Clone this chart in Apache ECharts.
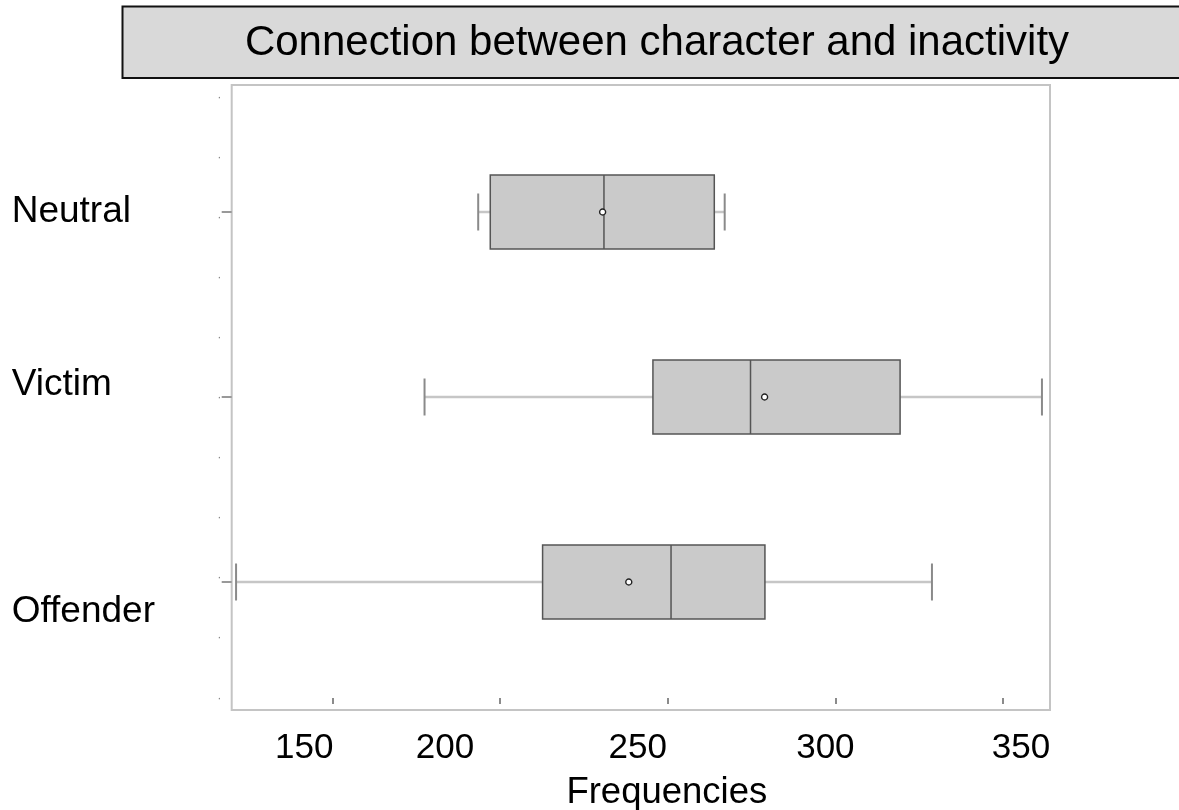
<!DOCTYPE html>
<html>
<head>
<meta charset="utf-8">
<script src="https://cdn.jsdelivr.net/npm/echarts@6/dist/echarts.min.js"></script>
<style>
  html, body { margin: 0; padding: 0; background: #fff; }
  #chart { width: 1179px; height: 810px; }
</style>
</head>
<body>
<div id="chart"></div>
<script>
// categories bottom to top
const categories = ['Offender', 'Victim', 'Neutral']
const whiskerLow = [121.3, 177.5, 193.5]
const q1 = [212.7, 245.6, 197.1]
const median = [251.0, 274.7, 231.0]
const q3 = [279.0, 319.3, 263.9]
const whiskerHigh = [328.8, 361.6, 267.0]
const means = [238.4, 278.9, 230.6]
const xTicks = [150, 200, 250, 300, 350]

const FONT = "'Liberation Sans', Arial, sans-serif"

// the source picture has its labels a bit off their ticks
const xLabelShift = { 150: -28, 200: -55, 250: -30, 300: -10, 350: 18 }
const yLabelShift = { Neutral: 0, Victim: -12, Offender: 30 }

const xRich = {}
xTicks.forEach(v => {
  const s = xLabelShift[v] || 0
  xRich['t' + v] = {
    fontSize: 35, fontFamily: FONT, color: '#000', lineHeight: 36,
    padding: s < 0 ? [0, -2 * s, 0, 0] : [0, 0, 0, 2 * s]
  }
})
const yRich = {}
categories.forEach(c => {
  const s = yLabelShift[c] || 0
  yRich[c] = {
    fontSize: 37, fontFamily: FONT, color: '#000', lineHeight: 40,
    padding: s < 0 ? [0, 0, -2 * s, 0] : [2 * s, 0, 0, 0]
  }
})

const boxData = categories.map((c, i) => [i, whiskerLow[i], q1[i], median[i], q3[i], whiskerHigh[i]])
const meanData = categories.map((c, i) => [means[i], i])

function renderBox(params, api) {
  const y = api.value(0)
  const lo = api.coord([api.value(1), y])
  const b1 = api.coord([api.value(2), y])
  const md = api.coord([api.value(3), y])
  const b3 = api.coord([api.value(4), y])
  const hi = api.coord([api.value(5), y])
  const band = api.size([0, 1])[1]
  const h = band * 0.4
  const cap = h / 2
  const cy = lo[1]
  const whisker = { stroke: '#c6c6c6', lineWidth: 2.5 }
  const capStyle = { stroke: '#8a8a8a', lineWidth: 2 }
  return {
    type: 'group',
    children: [
      { type: 'line', shape: { x1: lo[0], y1: cy, x2: b1[0], y2: cy }, style: whisker },
      { type: 'line', shape: { x1: b3[0], y1: cy, x2: hi[0], y2: cy }, style: whisker },
      { type: 'line', shape: { x1: lo[0], y1: cy - cap / 2, x2: lo[0], y2: cy + cap / 2 }, style: capStyle },
      { type: 'line', shape: { x1: hi[0], y1: cy - cap / 2, x2: hi[0], y2: cy + cap / 2 }, style: capStyle },
      {
        type: 'rect',
        shape: { x: b1[0], y: cy - h / 2, width: b3[0] - b1[0], height: h },
        style: { fill: '#cacaca', stroke: '#555', lineWidth: 1.5 }
      },
      { type: 'line', shape: { x1: md[0], y1: cy - h / 2, x2: md[0], y2: cy + h / 2 }, style: { stroke: '#555', lineWidth: 1.5 } }
    ]
  }
}

const chart = echarts.init(document.getElementById('chart'))
chart.setOption({
  animation: false,
  backgroundColor: '#fff',
  textStyle: { fontFamily: FONT },
  title: {
    text: 'Connection between character and inactivity',
    left: 657,
    top: 19,
    textAlign: 'center',
    padding: 0,
    textStyle: { fontSize: 42, fontWeight: 'normal', color: '#000', fontFamily: FONT, lineHeight: 48 }
  },
  graphic: [{
    type: 'rect',
    z: 0,
    shape: { x: 122.5, y: 6.5, width: 1070, height: 71.5 },
    style: { fill: '#d9d9d9', stroke: '#111', lineWidth: 2 }
  }],
  grid: [
    {
      left: 231.7, right: 129, top: 85, bottom: 100, outerBoundsMode: 'none',
      show: true, borderColor: '#c4c4c4', borderWidth: 2, backgroundColor: 'transparent'
    },
    { left: 231.7, right: 129, top: 119.5, bottom: 135.5, outerBoundsMode: 'none' }
  ],
  xAxis: [
    {
      gridIndex: 0,
      type: 'value',
      min: 120,
      max: 364,
      axisLine: { show: false },
      splitLine: { show: false },
      axisTick: { show: true, length: 6, customValues: xTicks, lineStyle: { color: '#666', width: 1.5 } },
      axisLabel: {
        customValues: xTicks,
        margin: 20,
        formatter: v => '{t' + v + '|' + v + '}',
        rich: xRich
      },
      name: 'Frequencies',
      nameLocation: 'middle',
      nameGap: 64,
      nameTextStyle: { fontSize: 36.5, color: '#000', fontFamily: FONT, lineHeight: 37, padding: [0, 0, 0, 52] }
    },
    {
      gridIndex: 1,
      type: 'value',
      min: 120,
      max: 364,
      show: false
    }
  ],
  yAxis: [
    {
      gridIndex: 0,
      type: 'value',
      min: -0.2,
      max: 10.2,
      splitNumber: 10,
      axisLine: { show: false },
      axisTick: { show: false },
      splitLine: { show: false },
      axisLabel: {
        showMinLabel: false,
        showMaxLabel: false,
        margin: 10,
        fontSize: 13,
        color: '#888',
        formatter: v => (Number.isInteger(v) ? '·' : '')
      }
    },
    {
      gridIndex: 1,
      type: 'category',
      data: categories,
      axisLine: { show: false },
      splitLine: { show: false },
      axisTick: { show: true, alignWithLabel: true, length: 10, lineStyle: { color: '#999', width: 2 } },
      axisLabel: {
        align: 'left',
        margin: 220,
        formatter: v => '{' + v + '|' + v + '}',
        rich: yRich
      }
    }
  ],
  series: [
    {
      type: 'custom',
      xAxisIndex: 1,
      yAxisIndex: 1,
      renderItem: renderBox,
      encode: { x: [1, 2, 3, 4, 5], y: 0 },
      data: boxData
    },
    {
      type: 'scatter',
      xAxisIndex: 1,
      yAxisIndex: 1,
      symbol: 'circle',
      symbolSize: 6,
      itemStyle: { color: '#fff', borderColor: '#222', borderWidth: 1.4, opacity: 1 },
      z: 5,
      data: meanData
    }
  ]
})
</script>
</body>
</html>
